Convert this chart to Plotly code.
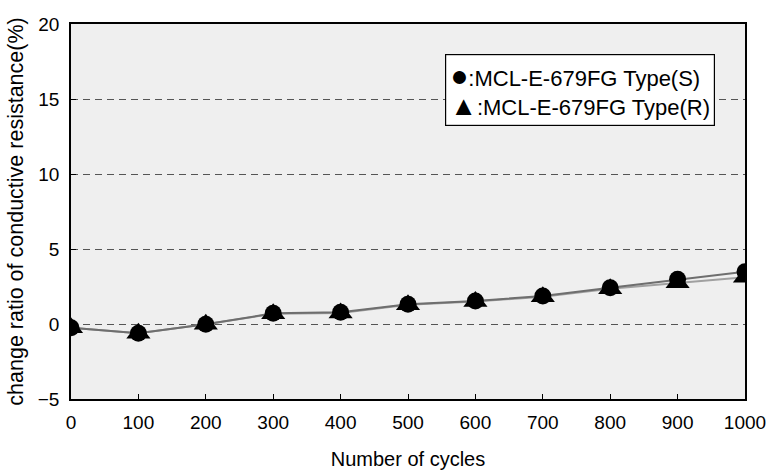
import plotly.graph_objects as go

cycles = [0, 100, 200, 300, 400, 500, 600, 700, 800, 900, 1000]
type_s = [-0.25, -0.62, -0.02, 0.71, 0.78, 1.31, 1.53, 1.87, 2.42, 2.98, 3.49]
type_r = [-0.25, -0.62, -0.02, 0.68, 0.74, 1.28, 1.50, 1.82, 2.35, 2.75, 3.12]

legend_s = "●:MCL-E-679FG Type(S)"
legend_r = "▲:MCL-E-679FG Type(R)"
x_title = "Number of cycles"
y_title = "change ratio of conductive resistance(%)"

FONT = "Liberation Sans, Arial, sans-serif"

fig = go.Figure()
fig.add_trace(go.Scatter(x=cycles, y=type_r, mode="lines",
                         line=dict(color="#a0a0a0", width=2), showlegend=False))
fig.add_trace(go.Scatter(x=cycles, y=type_s, mode="lines",
                         line=dict(color="#6e6e6e", width=2), showlegend=False))
fig.add_trace(go.Scatter(x=cycles, y=type_r, mode="markers",
                         marker=dict(symbol="triangle-up", size=21, color="black"),
                         showlegend=False))
fig.add_trace(go.Scatter(x=cycles, y=type_s, mode="markers",
                         marker=dict(symbol="circle", size=17, color="black"),
                         showlegend=False))

def legend_line(txt, sym_size):
    return f"<span style='font-size:{sym_size}px'>{txt[0]}</span>{txt[1:]}"

fig.add_annotation(
    xref="paper", yref="paper", x=0.555, y=0.92, xanchor="left", yanchor="top",
    text=legend_line(legend_s, 30) + "<br>" + legend_line(legend_r, 27),
    align="left", showarrow=False,
    font=dict(family=FONT, size=22, color="black"),
    bgcolor="white", bordercolor="black", borderwidth=1.2, borderpad=4,
)

fig.update_layout(
    width=767, height=472,
    margin=dict(l=71, r=22, t=24, b=73),
    paper_bgcolor="white", plot_bgcolor="#efefef",
    font=dict(family=FONT, size=19, color="black"),
)
fig.update_xaxes(
    range=[0, 1000], tickvals=cycles, ticks="inside", ticklen=5, tickcolor="black",
    showline=True, linecolor="black", linewidth=1.5, mirror=True,
    showgrid=False, zeroline=False, automargin=False,
    ticklabelstandoff=5,
    title=dict(text=x_title, standoff=20, font=dict(size=20)),
    tickfont=dict(size=19),
)
fig.update_yaxes(
    range=[-5, 20], tickvals=[-5, 0, 5, 10, 15, 20], ticktext=["−5", "0", "5", "10", "15", "20"],
    ticks="inside", ticklen=5, tickcolor="black",
    showline=True, linecolor="black", linewidth=1.5, mirror=True,
    showgrid=True, gridcolor="#555555", griddash="7px,5px", gridwidth=1,
    zeroline=False, automargin=False,
    ticklabelstandoff=6,
    title=dict(text=y_title, standoff=8, font=dict(size=21.5)),
    tickfont=dict(size=19),
)

fig.write_html("out.html", config={"displayModeBar": False},
               post_script="document.body.style.margin='0';")
